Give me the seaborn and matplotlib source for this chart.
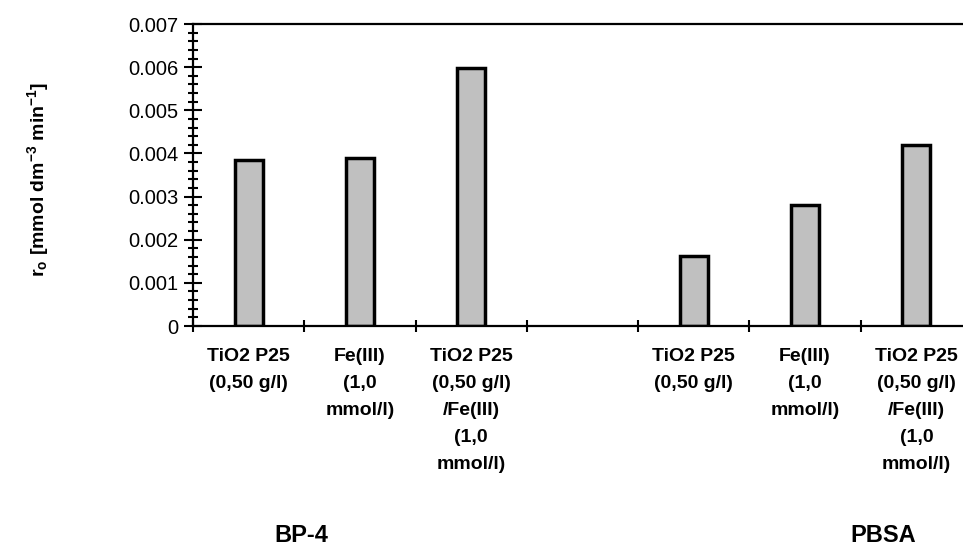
import numpy as np
import pandas as pd
import matplotlib
matplotlib.use("Agg")
import matplotlib.pyplot as plt
import seaborn as sns
from matplotlib.ticker import MultipleLocator, FuncFormatter, FixedLocator

sns.set_style("white")
plt.rcParams["font.family"] = ["Liberation Sans", "DejaVu Sans"]
plt.rcParams["mathtext.fontset"] = "custom"
plt.rcParams["mathtext.rm"] = "Liberation Sans:bold"
plt.rcParams["mathtext.bf"] = "Liberation Sans:bold"
plt.rcParams["mathtext.it"] = "Liberation Sans:bold"
plt.rcParams["mathtext.default"] = "bf"
for k in ["text.color", "axes.labelcolor", "xtick.color", "ytick.color"]:
    plt.rcParams[k] = "black"

# data
slots = ["bp_tio2", "bp_fe", "bp_mix", "gap", "pbsa_tio2", "pbsa_fe", "pbsa_mix"]
rate_bp4 = [0.00385, 0.00389, 0.00598]
rate_pbsa = [0.00163, 0.00280, 0.00420]
labels = ["TiO2 P25\n(0,50 g/l)", "Fe(III)\n(1,0\nmmol/l)",
          "TiO2 P25\n(0,50 g/l)\n/Fe(III)\n(1,0\nmmol/l)", ""]
labels = labels + labels[:3]
groups = ["BP-4", "PBSA"]

df = pd.DataFrame({
    "slot": slots[:3] + slots[4:],
    "rate": rate_bp4 + rate_pbsa,
})

fig = plt.figure(figsize=(9.63, 5.45), dpi=100)
ax = fig.add_axes([193/963, 1 - 326/545, 779/963, 302/545])

sns.barplot(data=df, x="slot", y="rate", order=slots, color="#c0c0c0",
            width=0.25, edgecolor="black", linewidth=2.5, saturation=1, ax=ax)

ax.set_xlim(-0.5, 6.5)
ax.set_ylim(0, 0.007)
ax.yaxis.set_major_locator(MultipleLocator(0.001))
ax.yaxis.set_minor_locator(MultipleLocator(0.0002))
ax.yaxis.set_major_formatter(FuncFormatter(lambda v, p: "0" if v == 0 else f"{v:.3f}"))
ax.tick_params(axis="y", which="major", direction="inout", length=13, width=1.5,
               labelsize=14.5, pad=4, left=True)
ax.tick_params(axis="y", which="minor", direction="inout", length=7, width=1.5, left=True)

ax.set_xticks(range(len(slots)))
ax.set_xticklabels(labels, fontweight="bold", fontsize=14, linespacing=1.76, va="top")
ax.xaxis.set_minor_locator(FixedLocator(np.arange(-0.5, 7, 1.0)))
ax.tick_params(axis="x", which="major", length=0, pad=16)
ax.tick_params(axis="x", which="minor", direction="inout", length=9, width=1.5, bottom=True)

ax.set_xlabel("")
ax.set_ylabel(r"r$_o$ [mmol dm$^{-3}$ min$^{-1}$]", fontweight="bold", fontsize=14, va="center")
ax.yaxis.set_label_coords((38 - 193) / 779, 0.485)

for s in ["left", "bottom", "top"]:
    ax.spines[s].set_linewidth(1.6)
    ax.spines[s].set_color("black")
ax.spines["right"].set_visible(False)

fig.text(301/963, 1 - 535/545, groups[0], fontweight="bold", fontsize=17, ha="center", va="center")
fig.text(883/963, 1 - 535/545, groups[1], fontweight="bold", fontsize=17, ha="center", va="center")

fig.savefig("out.png", dpi=100, facecolor="white")
